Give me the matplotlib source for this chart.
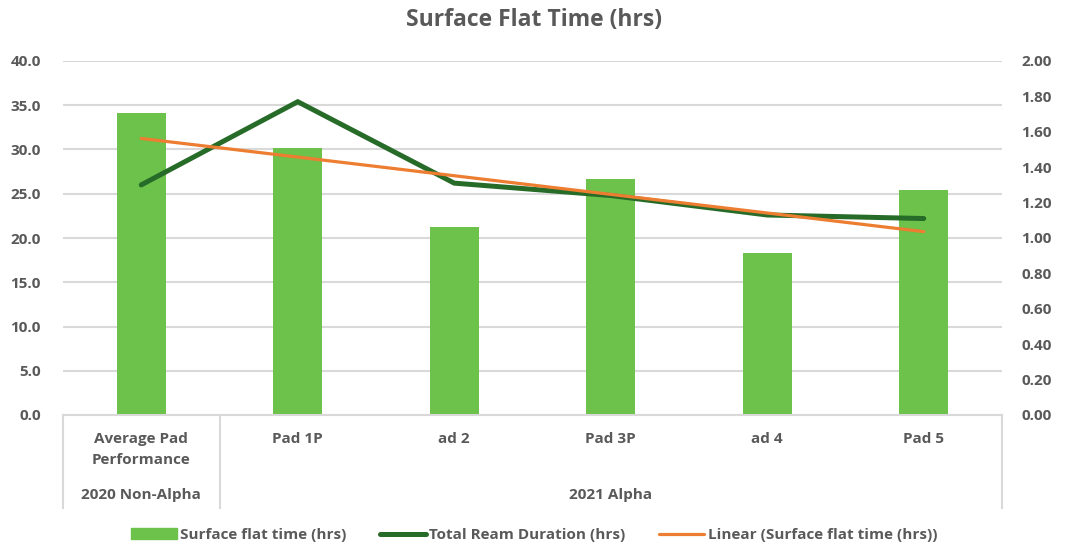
import numpy as np
import matplotlib
matplotlib.use("Agg")
import matplotlib.pyplot as plt
from matplotlib.patches import Patch
from matplotlib.lines import Line2D
from matplotlib.ticker import FormatStrFormatter, MultipleLocator
import matplotlib.transforms as mtransforms

plt.rcParams['font.family'] = ['Open Sans', 'DejaVu Sans']

categories = ["Average Pad\nPerformance", "Pad 1P", "ad 2", "Pad 3P", "ad 4", "Pad 5"]
groups = ["2020 Non-Alpha", "2021 Alpha"]
group_spans = [(0, 0), (1, 5)]
surface_flat = [34.1, 30.2, 21.2, 26.7, 18.3, 25.4]
ream_duration = [1.30, 1.77, 1.31, 1.24, 1.13, 1.11]

GRAY = "#595959"
GRID = "#d9d9d9"
BAR = "#6CC24A"
DKGREEN = "#276B28"
ORANGE = "#ED7D31"
FS = 11

fig = plt.figure(figsize=(10.68, 5.46), dpi=100)
ax = fig.add_axes([63/1068, 131/546, (1002-63)/1068, 354/546])
ax2 = ax.twinx()

x = np.arange(len(categories))
ax.bar(x, surface_flat, width=0.31, color=BAR, zorder=2)

ax2.plot(x, ream_duration, color=DKGREEN, lw=3.6, solid_capstyle='round',
         solid_joinstyle='miter', zorder=3)

# Linear trendline (least squares fit of bar series, as in Excel), in left-axis units
xf = x + 1
coef = np.polyfit(xf, surface_flat, 1)
trend = np.polyval(coef, xf)
ax2.plot(x, trend, transform=ax.transData, color=ORANGE, lw=2.3,
         solid_capstyle='round', zorder=4)

ax.set_xlim(-0.5, len(categories) - 0.5)
ax.set_ylim(0, 40)
ax2.set_ylim(0, 2.0)
ax.yaxis.set_major_locator(MultipleLocator(5))
ax.yaxis.set_major_formatter(FormatStrFormatter('%.1f'))
ax2.yaxis.set_major_locator(MultipleLocator(0.2))
ax2.yaxis.set_major_formatter(FormatStrFormatter('%.2f'))

for a in (ax, ax2):
    for s in a.spines.values():
        s.set_visible(False)
    a.tick_params(length=0, labelsize=FS, labelcolor=GRAY)
    for lab in a.get_yticklabels():
        lab.set_fontweight('bold')
ax.tick_params(axis='y', pad=16)
ax2.tick_params(axis='y', pad=14)
ax.yaxis.grid(True, color=GRID, lw=1.5, zorder=0)
ax.set_axisbelow(True)
ax.set_xticks([])
ax.spines['bottom'].set_visible(True)
ax.spines['bottom'].set_color(GRID)
ax.spines['bottom'].set_linewidth(1.5)

trans = mtransforms.blended_transform_factory(ax.transData, ax.transAxes)
bot = -(508 - 415) / 354
for xs in [-0.5, 0.5, len(categories) - 0.5]:
    ax.plot([xs, xs], [0, bot], transform=trans, color=GRID, lw=1.5, clip_on=False)

for i, c in enumerate(categories):
    ax.text(i, -(432 - 415) / 354, c, transform=trans, ha='center', va='top',
            fontsize=FS, fontweight='bold', color=GRAY, linespacing=1.6)
for g, (a0, a1) in zip(groups, group_spans):
    ax.text((a0 + a1) / 2, -(495 - 415) / 354, g, transform=trans, ha='center',
            va='center', fontsize=FS, fontweight='bold', color=GRAY)

fig.text(0.5, 1 - 20/546, "Surface Flat Time (hrs)", ha='center', va='center',
         fontsize=16.5, fontweight='bold', color=GRAY)

handles = [Patch(color=BAR),
           Line2D([], [], color=DKGREEN, lw=3.6, solid_capstyle='round'),
           Line2D([], [], color=ORANGE, lw=2.3, solid_capstyle='round')]
labels = ["Surface flat time (hrs)", "Total Ream Duration (hrs)", "Linear (Surface flat time (hrs))"]
leg = fig.legend(handles, labels, loc='center', bbox_to_anchor=(0.5, 1 - 535/546), ncol=3,
                 frameon=False, fontsize=FS, columnspacing=2.2, handlelength=3.0,
                 handletextpad=0.2)
for t in leg.get_texts():
    t.set_color(GRAY)
    t.set_fontweight('bold')

fig.savefig("out.png", dpi=100)
